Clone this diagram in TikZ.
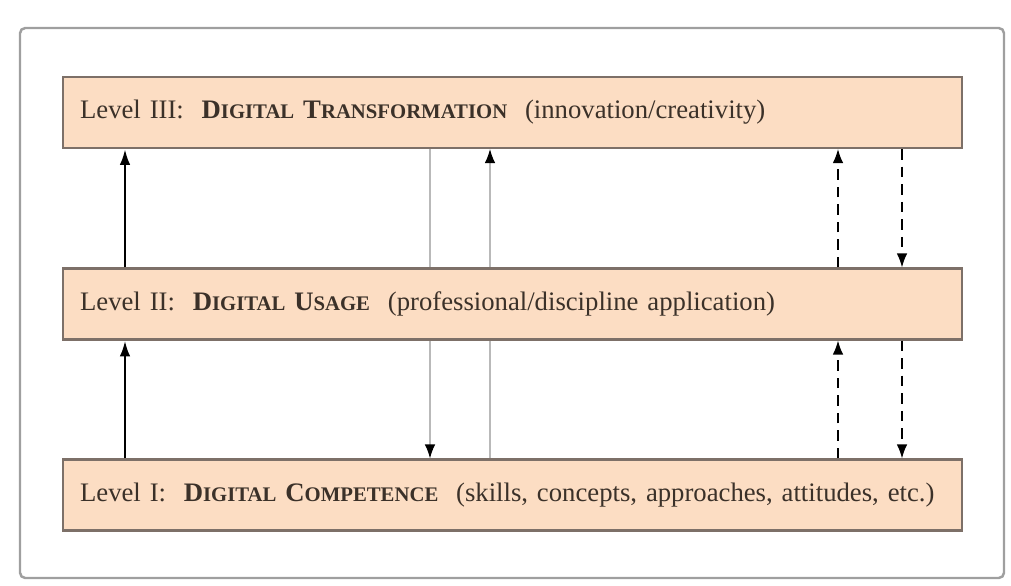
\documentclass[tikz,border=0pt]{standalone}
\usepackage{fontspec}
\setmainfont{Liberation Serif}
\usetikzlibrary{arrows.meta,backgrounds}

\definecolor{boxfill}{HTML}{FCDDC3}
\definecolor{boxline}{HTML}{7D7068}
\definecolor{boxtext}{HTML}{3B3129}
% fake small caps: big first letter, smaller rest
\newcommand{\capsc}[2]{#1{\fontsize{11.8}{14}\selectfont #2}}

\begin{document}
\begin{tikzpicture}[x=0.02cm,y=-0.02cm,
	level/.style={draw=boxline,line width=1.2pt,fill=boxfill,text=boxtext,minimum width=17.98cm,minimum height=1.42cm,text width=17.3cm,align=left,font=\fontsize{15.2}{18}\selectfont},
	upthick/.style={line width=1.5pt,-{Latex[length=9pt,width=6pt]}},
	thinline/.style={gray!55,line width=0.7pt},
	dashline/.style={line width=0.8pt,dash pattern=on 6pt off 4pt,-{Latex[length=8pt,width=6pt]}}]
	\useasboundingbox (0,0) rectangle (1011,585);
	% outer frame
	\draw[gray!75,line width=1.4pt,rounded corners=3pt] (20,28) rectangle (1004,578);
	% the three levels
	\node[level] (lvlthree) at (512.5,112.5) {Level III:\ \ \textbf{\capsc{D}{IGITAL} \capsc{T}{RANSFORMATION}}\ \ (innovation/creativity)};
	\node[level] (lvltwo) at (512.5,304) {Level II:\ \ \textbf{\capsc{D}{IGITAL} \capsc{U}{SAGE}}\ \ (professional/discipline application)};
	\node[level] (lvlone) at (512.5,495) {Level I:\ \ \textbf{\capsc{D}{IGITAL} \capsc{C}{OMPETENCE}}\ \ (skills, concepts, approaches, attitudes, etc.)};
	% arrow columns
	\coordinate (xa) at (125,0);
	\coordinate (xb) at (430,0);
	\coordinate (xc) at (490,0);
	\coordinate (xd) at (838,0);
	\coordinate (xe) at (902,0);
	\draw[upthick] (lvltwo.north -| xa) -- (lvlthree.south -| xa);
	\draw[upthick] (lvlone.north -| xa) -- (lvltwo.south -| xa);
	\begin{scope}[on background layer]
		\draw[thinline,-{Latex[length=8pt,width=6pt,black]}] (lvlthree.south -| xb) -- (lvlone.north -| xb);
		\draw[thinline,-{Latex[length=8pt,width=6pt,black]}] (lvlone.north -| xc) -- (lvlthree.south -| xc);
	\end{scope}
	\draw[dashline] (lvltwo.north -| xd) -- (lvlthree.south -| xd);
	\draw[dashline] (lvlone.north -| xd) -- (lvltwo.south -| xd);
	\draw[dashline] (lvlthree.south -| xe) -- (lvltwo.north -| xe);
	\draw[dashline] (lvltwo.south -| xe) -- (lvlone.north -| xe);
\end{tikzpicture}
\end{document}
